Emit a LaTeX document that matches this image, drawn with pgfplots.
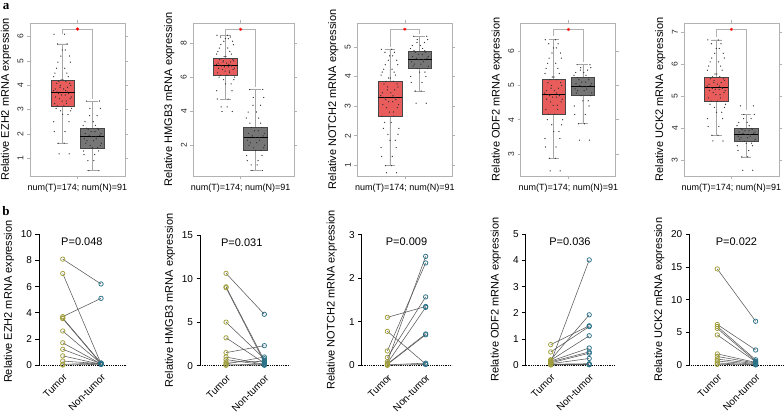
\documentclass[border=0pt]{standalone}
\usepackage{fontspec}
\setmainfont{Liberation Sans}
\newfontfamily\panelfont{Liberation Serif}
\usepackage{pgfplots}
\usepackage{pgfplotstable}
\pgfplotsset{compat=1.18}
\usepgfplotslibrary{statistics}

\definecolor{tumred}{RGB}{232,92,92}
\definecolor{norgray}{RGB}{118,118,118}
\definecolor{olivec}{RGB}{160,158,58}
\definecolor{tealc}{RGB}{42,112,134}

% jitter points for the GEPIA boxes: dx, ex (second offset), tumor, normal
\pgfplotstableread{
dx ex t1 n1 t2 n2 t3 n3 t4 n4 t5 n5
-0.12 0.22 1.18 0.49 3.98 0.52 0.75 3.10 2.50 3.40 3.60 2.68
0.05 -0.15 1.62 0.90 4.25 0.85 0.99 3.51 2.87 3.88 3.78 3.10
-0.28 0.08 2.10 1.15 4.71 1.10 1.30 3.80 3.20 4.15 4.05 3.30
0.21 -0.30 2.50 1.30 5.20 1.40 1.60 4.00 3.45 4.40 4.30 3.45
0.00 0.18 2.80 1.43 5.60 1.69 1.85 4.15 3.65 4.55 4.50 3.53
-0.07 0.27 2.95 1.52 5.85 1.85 2.05 4.27 3.85 4.70 4.65 3.59
0.30 -0.22 3.05 1.62 6.00 2.00 2.25 4.35 4.00 4.78 4.75 3.65
-0.18 0.04 3.15 1.72 6.11 2.15 2.45 4.42 4.16 4.85 4.85 3.70
0.13 -0.27 3.25 1.80 6.25 2.30 2.66 4.50 4.30 4.90 4.95 3.75
-0.02 0.12 3.35 1.88 6.35 2.44 2.80 4.57 4.42 4.96 5.05 3.80
0.25 -0.11 3.45 1.95 6.45 2.55 2.95 4.62 4.52 5.00 5.12 3.84
-0.24 0.29 3.52 2.02 6.52 2.70 3.05 4.68 4.60 5.05 5.18 3.88
0.09 -0.04 3.60 2.10 6.60 2.85 3.15 4.75 4.66 5.10 5.22 3.92
-0.14 0.20 3.66 2.18 6.65 3.05 3.22 4.82 4.70 5.17 5.25 3.96
0.17 -0.19 3.72 2.23 6.70 3.30 3.28 4.87 4.73 5.23 5.28 3.99
-0.31 0.10 3.78 2.35 6.75 3.60 3.35 4.95 4.78 5.30 5.32 4.08
0.03 -0.25 3.85 2.50 6.82 3.95 3.45 5.05 4.85 5.38 5.38 4.18
-0.09 0.16 3.92 2.75 6.88 4.35 3.55 5.15 4.92 5.45 5.43 4.30
0.27 -0.08 4.00 3.05 6.95 4.80 3.65 5.25 5.00 5.52 5.50 4.43
-0.20 0.24 4.08 3.35 7.02 5.27 3.75 5.36 5.08 5.61 5.55 4.70
0.11 -0.13 4.15 nan 7.09 nan 3.84 nan 5.17 nan 5.61 nan
-0.05 0.01 4.22 nan 7.20 nan 3.95 nan 5.25 nan 5.70 nan
0.19 -0.30 4.35 nan 7.35 nan 4.05 nan 5.35 nan 5.82 nan
-0.26 0.14 4.50 nan 7.50 nan 4.15 nan 5.50 nan 5.95 nan
0.07 -0.21 4.70 nan 7.70 nan 4.25 nan 5.65 nan 6.08 nan
-0.16 0.26 4.95 nan 7.90 nan 4.40 nan 5.80 nan 6.20 nan
0.23 -0.06 5.20 nan 8.10 nan 4.55 nan 5.95 nan 6.35 nan
-0.01 0.09 5.45 nan 8.25 nan 4.70 nan 6.10 nan 6.50 nan
0.15 -0.17 5.70 nan 8.35 nan 4.82 nan 6.22 nan 6.65 nan
-0.29 0.06 6.10 nan 8.45 nan 4.92 nan 6.34 nan 6.77 nan
}\jitter

% paired qPCR values: tumor, non-tumor
\pgfplotstableread{
t n
8.10 6.20
7.00 0.10
3.70 5.10
3.60 0.15
3.55 0.10
2.60 0.12
1.70 0.08
1.20 0.10
0.70 0.05
0.30 0.10
0.05 0.15
0.00 0.05
}\pEZH
\pgfplotstableread{
t n
10.6 5.90
9.05 0.60
8.95 0.40
5.00 0.80
3.20 0.30
1.50 2.30
1.00 0.15
0.70 0.10
0.40 0.50
0.20 1.00
0.10 0.05
0.05 0.20
}\pHMG
\pgfplotstableread{
t n
1.10 1.35
0.78 0.03
0.33 2.35
0.18 1.57
0.08 2.50
0.05 1.33
0.03 0.72
0.02 0.70
0.01 0.05
0.00 0.02
}\pNOT
\pgfplotstableread{
t n
0.10 4.02
0.78 1.50
0.50 1.47
0.20 1.92
0.18 1.12
0.15 0.65
0.12 0.50
0.08 0.45
0.05 0.25
0.03 0.05
0.02 0.02
0.00 0.01
}\pODF
\pgfplotstableread{
t n
14.7 6.70
6.20 2.30
5.90 0.80
5.60 0.60
4.60 0.50
1.70 0.40
1.30 0.30
0.90 0.20
0.60 0.10
0.30 0.05
0.10 0.02
}\pUCK

\pgfplotsset{
  /pgf/number format/assume math mode=true,
  topbox/.style={
    scale only axis, width=95pt, height=153pt,
    xmin=-0.1, xmax=3.1, clip=false,
    boxplot/draw direction=y,
    axis line style={gray!60, line width=0.8pt},
    tick style={gray!60, line width=0.6pt},
    tick align=outside, major tick length=3pt,
    xtick={1.5}, xticklabels={{num(T)=174; num(N)=91}},
    x tick label style={font=\fontsize{9}{10}\selectfont, yshift=-1pt},
    y tick label style={rotate=90, anchor=south, font=\fontsize{8.5}{9}\selectfont, text=black!85},
    every axis y label/.style={at={(axis description cs:0,0.5)}, xshift=-24pt,
      rotate=90, anchor=center, font=\fontsize{11}{12}\selectfont},
    boxplot/every median/.style={black, line width=1.1pt},
    boxplot/every whisker/.style={gray!70, line width=0.6pt},
    boxplot/every box/.style={draw=gray!55!black, line width=0.5pt},
  },
  tbox/.style={boxplot prepared={draw position=1, box extend=0.8, whisker extend=0.35, #1},
    fill=tumred, draw=gray!55!black},
  nbox/.style={boxplot prepared={draw position=2, box extend=0.8, whisker extend=0.35, #1},
    fill=norgray, draw=gray!55!black},
  jit/.style={only marks, mark=*, mark size=0.35pt, black!80},
  brk/.style={gray!60, line width=0.6pt},
  star/.style={only marks, mark=asterisk, mark size=1.6pt, red, line width=0.6pt},
  botpair/.style={
    scale only axis, height=130.7pt, ymin=0, clip=false,
    axis x line*=bottom, axis y line*=left,
    x axis line style={black, line width=0.9pt, dash pattern=on 0.9pt off 0.9pt},
    y axis line style={black, line width=0.7pt},
    ytick style={black, line width=0.7pt}, tick align=outside, major tick length=3.5pt,
    xtick={1,2}, xticklabels={Tumor, Non-tumor}, xtick style={draw=none},
    x tick label style={rotate=45, anchor=north east, font=\fontsize{10}{11}\selectfont},
    y tick label style={font=\fontsize{10}{11}\selectfont},
    every axis y label/.style={at={(axis description cs:0,0.5)}, xshift=-30pt,
      rotate=90, anchor=center, font=\fontsize{11}{12}\selectfont},
  },
  seg/.style={quiver={u=1, v=\thisrow{n}-\thisrow{t}}, no marks, black!65, line width=0.55pt},
  tmk/.style={only marks, mark=o, mark size=2.2pt, olivec, line width=0.75pt},
  nmk/.style={only marks, mark=o, mark size=2.2pt, tealc, line width=0.75pt},
}

\begin{document}
\begin{tikzpicture}
\useasboundingbox (0pt,0pt) rectangle (784pt,413pt);
\node[font=\panelfont\bfseries\fontsize{13}{14}\selectfont] at (6pt,406pt) {a};
\node[font=\panelfont\bfseries\fontsize{13}{14}\selectfont] at (6pt,202pt) {b};

% ---------- row a ----------
\begin{axis}[topbox, at={(30pt,237pt)}, anchor=south west,
  ymin=0.27, ymax=6.56, ytick={1,2,3,4,5,6}, ylabel={Relative EZH2 mRNA expression}]
\addplot[tbox={median=3.72, lower quartile=3.15, upper quartile=4.22, lower whisker=1.62, upper whisker=5.70}] coordinates {};
\addplot[nbox={median=1.885, lower quartile=1.43, upper quartile=2.23, lower whisker=0.49, upper whisker=3.35}] coordinates {};
\addplot[jit] table[x expr=1+\thisrow{dx}, y=t1] {\jitter};
\addplot[jit] table[x expr=1+\thisrow{ex}, y=t1] {\jitter};
\addplot[jit] table[x expr=2+\thisrow{dx}, y=n1] {\jitter};
\addplot[jit] table[x expr=2+\thisrow{ex}, y=n1] {\jitter};
\addplot[brk] coordinates {(1,6.12) (1,6.31) (2,6.31) (2,3.45)};
\addplot[star] coordinates {(1.5,6.31)};
\end{axis}

\begin{axis}[topbox, at={(193.3pt,237pt)}, anchor=south west, width=100.7pt,
  xmin=-0.08, xmax=3.28,
  ymin=0.2, ymax=9.17, ytick={2,4,6,8}, ylabel={Relative HMGB3 mRNA expression}]
\addplot[tbox={median=6.70, lower quartile=6.11, upper quartile=7.09, lower whisker=4.71, upper whisker=8.45}] coordinates {};
\addplot[nbox={median=2.44, lower quartile=1.69, upper quartile=3.05, lower whisker=0.52, upper whisker=5.27}] coordinates {};
\addplot[jit] table[x expr=1+\thisrow{dx}, y=t2] {\jitter};
\addplot[jit] table[x expr=1+\thisrow{ex}, y=t2] {\jitter};
\addplot[jit] table[x expr=2+\thisrow{dx}, y=n2] {\jitter};
\addplot[jit] table[x expr=2+\thisrow{ex}, y=n2] {\jitter};
\addplot[brk] coordinates {(1,8.49) (1,8.8) (2,8.8) (2,5.39)};
\addplot[star] coordinates {(1.5,8.8)};
\end{axis}

\begin{axis}[topbox, at={(357.3pt,237pt)}, anchor=south west,
  ymin=0.64, ymax=5.81, ytick={1,2,3,4,5}, ylabel={Relative NOTCH2 mRNA expression}]
\addplot[tbox={median=3.28, lower quartile=2.66, upper quartile=3.84, lower whisker=0.99, upper whisker=4.92}] coordinates {};
\addplot[nbox={median=4.57, lower quartile=4.27, upper quartile=4.87, lower whisker=3.51, upper whisker=5.36}] coordinates {};
\addplot[jit] table[x expr=1+\thisrow{dx}, y=t3] {\jitter};
\addplot[jit] table[x expr=1+\thisrow{ex}, y=t3] {\jitter};
\addplot[jit] table[x expr=2+\thisrow{dx}, y=n3] {\jitter};
\addplot[jit] table[x expr=2+\thisrow{ex}, y=n3] {\jitter};
\addplot[brk] coordinates {(1,5.0) (1,5.6) (2,5.6) (2,5.45)};
\addplot[star] coordinates {(1.5,5.6)};
\end{axis}

\begin{axis}[topbox, at={(520.7pt,237pt)}, anchor=south west,
  xmin=-0.13, xmax=3.12,
  ymin=2.35, ymax=6.83, ytick={3,4,5,6}, ylabel={Relative ODF2 mRNA expression}]
\addplot[tbox={median=4.73, lower quartile=4.16, upper quartile=5.17, lower whisker=2.87, upper whisker=6.34}] coordinates {};
\addplot[nbox={median=4.96, lower quartile=4.70, upper quartile=5.23, lower whisker=3.88, upper whisker=5.61}] coordinates {};
\addplot[jit] table[x expr=1+\thisrow{dx}, y=t4] {\jitter};
\addplot[jit] table[x expr=1+\thisrow{ex}, y=t4] {\jitter};
\addplot[jit] table[x expr=2+\thisrow{dx}, y=n4] {\jitter};
\addplot[jit] table[x expr=2+\thisrow{ex}, y=n4] {\jitter};
\addplot[brk] coordinates {(1,6.45) (1,6.64) (2,6.64) (2,5.69)};
\addplot[star] coordinates {(1.5,6.64)};
\end{axis}

\begin{axis}[topbox, at={(684.3pt,237pt)}, anchor=south west,
  xmin=-0.08, xmax=3.11,
  ymin=2.5, ymax=7.3, ytick={3,4,5,6,7}, ylabel={Relative UCK2 mRNA expression}]
\addplot[tbox={median=5.28, lower quartile=4.85, upper quartile=5.61, lower whisker=3.78, upper whisker=6.77}] coordinates {};
\addplot[nbox={median=3.80, lower quartile=3.59, upper quartile=3.99, lower whisker=3.10, upper whisker=4.43}] coordinates {};
\addplot[jit] table[x expr=1+\thisrow{dx}, y=t5] {\jitter};
\addplot[jit] table[x expr=1+\thisrow{ex}, y=t5] {\jitter};
\addplot[jit] table[x expr=2+\thisrow{dx}, y=n5] {\jitter};
\addplot[jit] table[x expr=2+\thisrow{ex}, y=n5] {\jitter};
\addplot[brk] coordinates {(1,6.86) (1,7.1) (2,7.1) (2,4.56)};
\addplot[star] coordinates {(1.5,7.1)};
\end{axis}

% ---------- row b ----------
\begin{axis}[botpair, at={(39pt,48pt)}, anchor=south west, width=87.7pt,
  xmin=0.38, xmax=2.67, ymax=10, ytick={0,2,4,6,8,10},
  ylabel={Relative EZH2 mRNA expression}, ylabel style={xshift=-2pt}]
\addplot[seg] table[x expr=1, y=t] {\pEZH};
\addplot[tmk] table[x expr=1, y=t] {\pEZH};
\addplot[nmk] table[x expr=2, y=n] {\pEZH};
\node[font=\fontsize{11}{12}\selectfont] at (axis cs:1.5,9.43) {P=0.048};
\end{axis}

\begin{axis}[botpair, at={(200pt,47.3pt)}, anchor=south west, width=90pt,
  xmin=0.32, xmax=2.67, ymax=15, ytick={0,5,10,15},
  ylabel={Relative HMGB3 mRNA expression}]
\addplot[seg] table[x expr=1, y=t] {\pHMG};
\addplot[tmk] table[x expr=1, y=t] {\pHMG};
\addplot[nmk] table[x expr=2, y=n] {\pHMG};
\node[font=\fontsize{11}{12}\selectfont] at (axis cs:1.41,14.15) {P=0.031};
\end{axis}

\begin{axis}[botpair, at={(361.7pt,47.7pt)}, anchor=south west, width=90pt,
  xmin=0.33, xmax=2.68, ymax=3, ytick={0,1,2,3},
  ylabel={Relative NOTCH2 mRNA expression}]
\addplot[seg] table[x expr=1, y=t] {\pNOT};
\addplot[tmk] table[x expr=1, y=t] {\pNOT};
\addplot[nmk] table[x expr=2, y=n] {\pNOT};
\node[font=\fontsize{11}{12}\selectfont] at (axis cs:1.5,2.84) {P=0.009};
\end{axis}

\begin{axis}[botpair, at={(525.7pt,48pt)}, anchor=south west, width=89.3pt,
  xmin=0.35, xmax=2.67, ymax=5, ytick={0,1,2,3,4,5},
  ylabel={Relative ODF2 mRNA expression}]
\addplot[seg] table[x expr=1, y=t] {\pODF};
\addplot[tmk] table[x expr=1, y=t] {\pODF};
\addplot[nmk] table[x expr=2, y=n] {\pODF};
\node[font=\fontsize{11}{12}\selectfont] at (axis cs:1.5,4.72) {P=0.036};
\end{axis}

\begin{axis}[botpair, at={(689.3pt,48pt)}, anchor=south west, width=94.7pt,
  xmin=0.27, xmax=2.74, ymax=20, ytick={0,5,10,15,20},
  ylabel={Relative UCK2 mRNA expression}]
\addplot[seg] table[x expr=1, y=t] {\pUCK};
\addplot[tmk] table[x expr=1, y=t] {\pUCK};
\addplot[nmk] table[x expr=2, y=n] {\pUCK};
\node[font=\fontsize{11}{12}\selectfont] at (axis cs:1.5,18.9) {P=0.022};
\end{axis}
\end{tikzpicture}
\end{document}
